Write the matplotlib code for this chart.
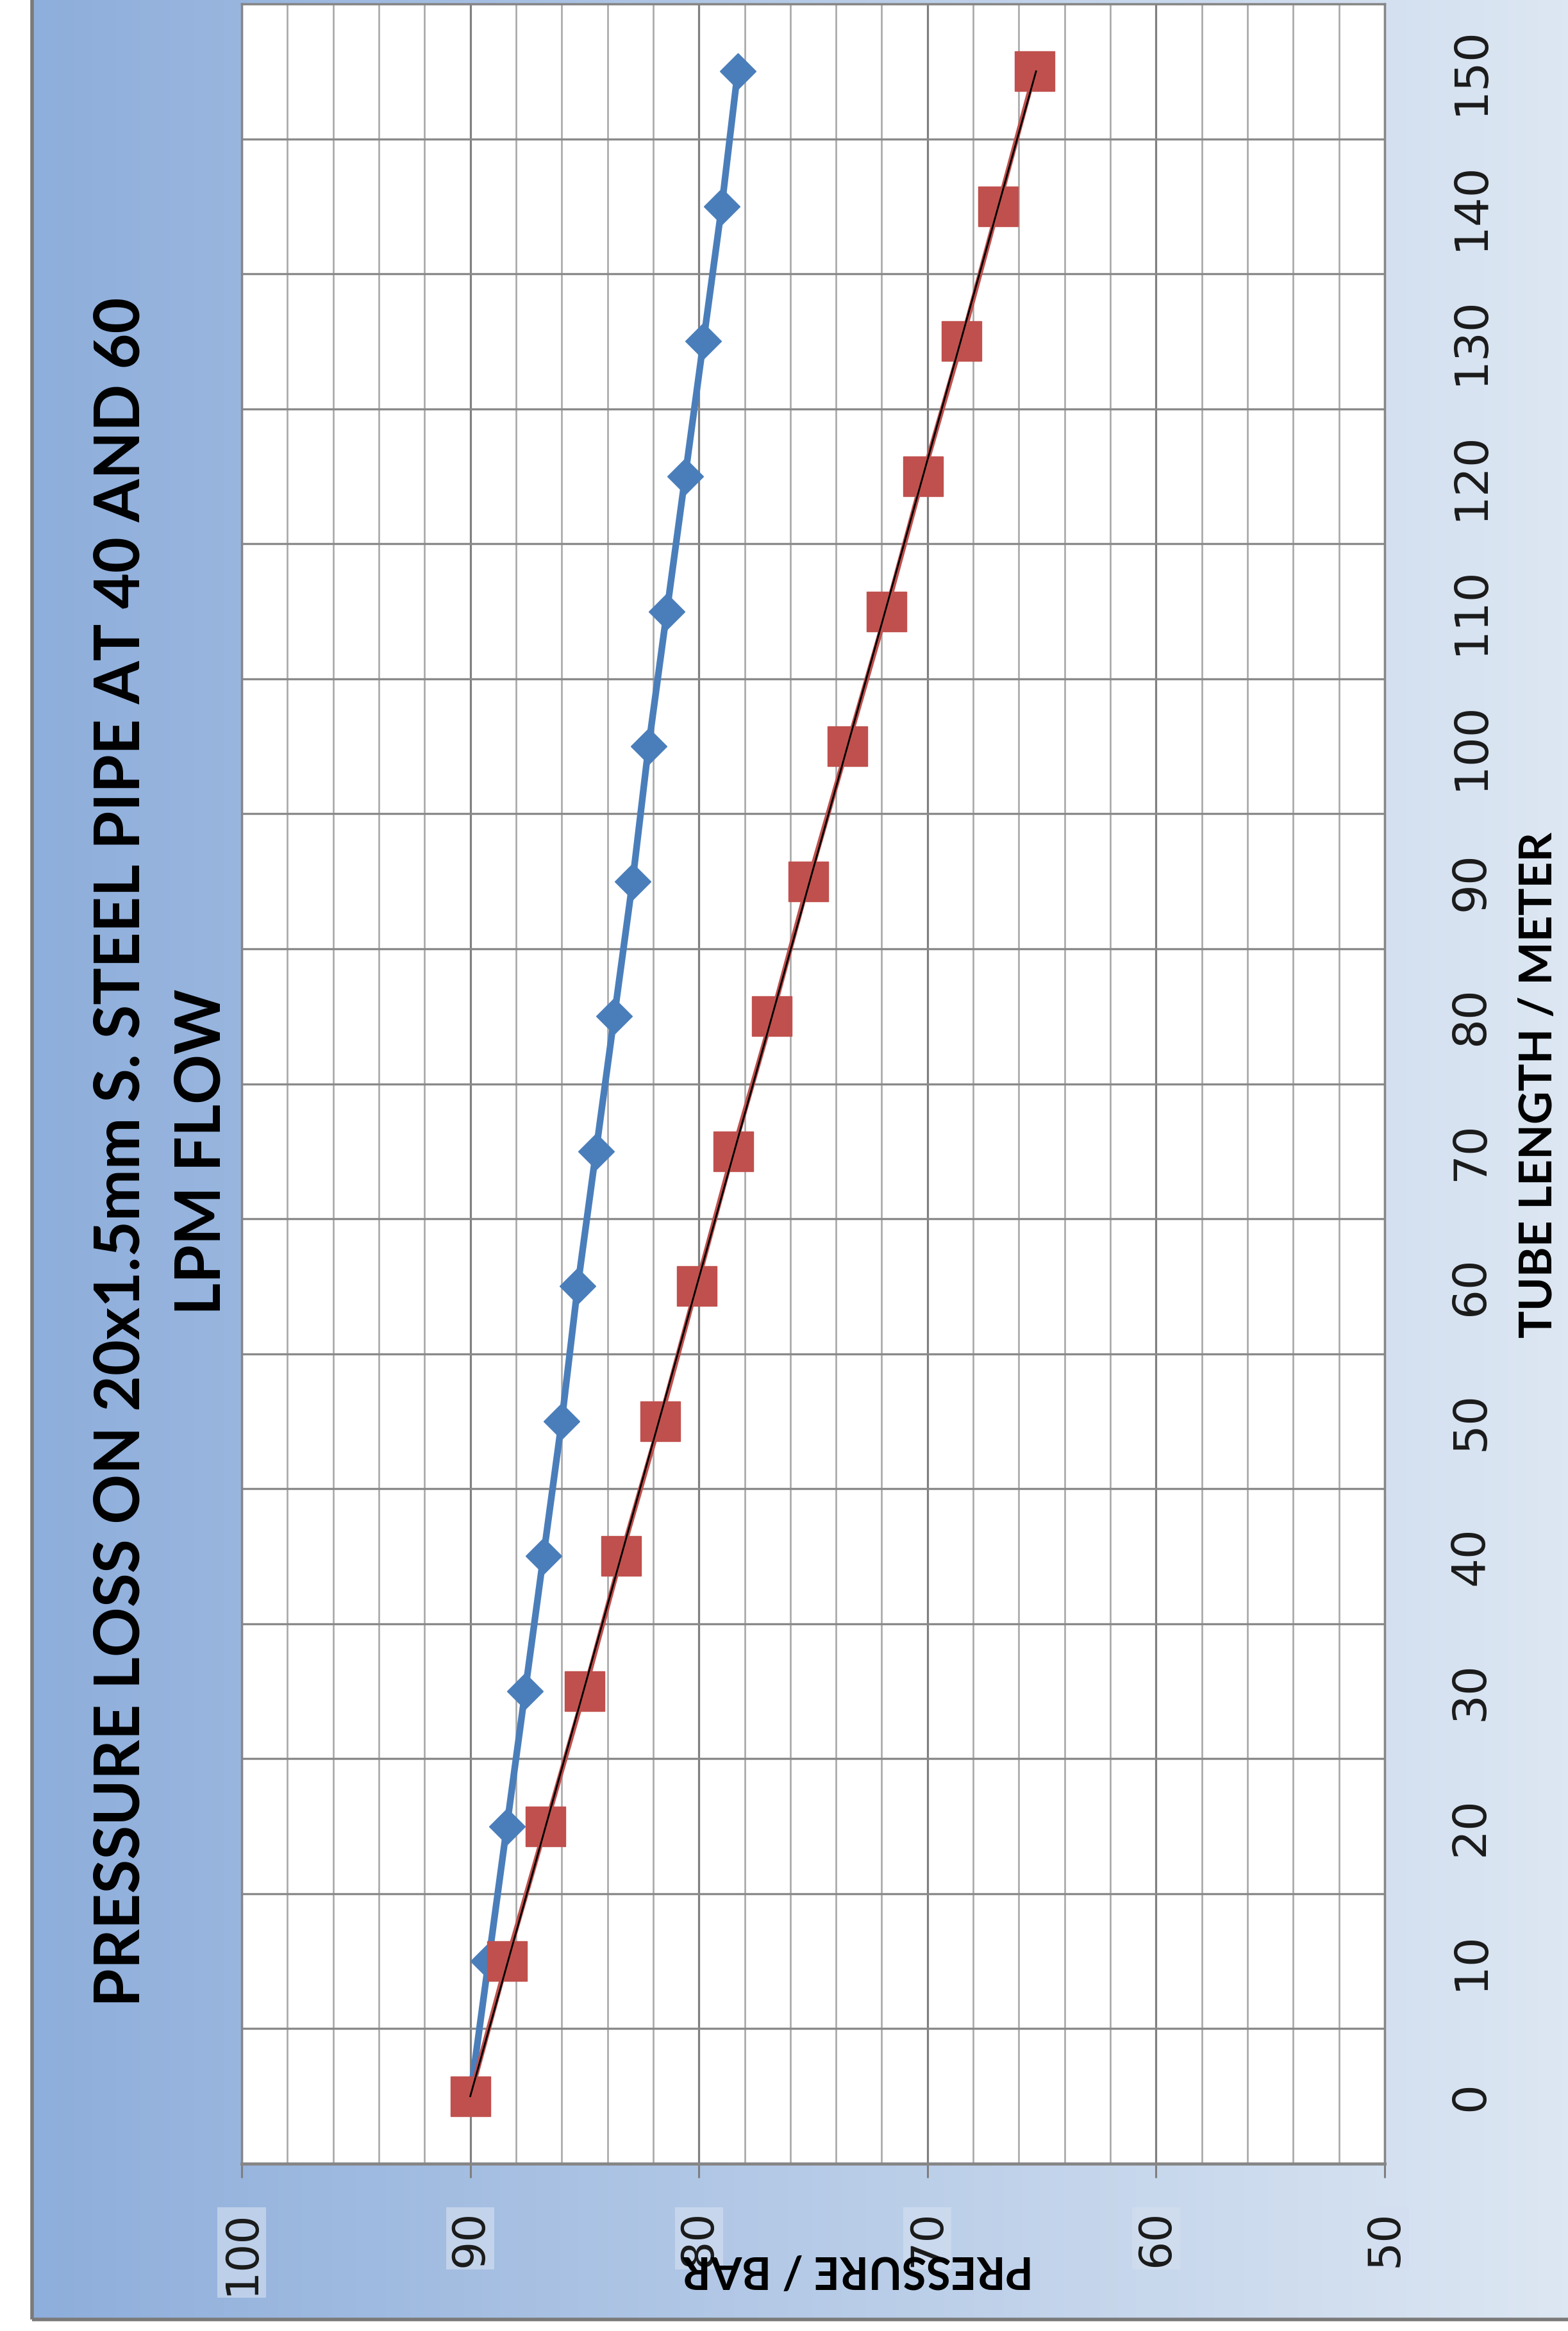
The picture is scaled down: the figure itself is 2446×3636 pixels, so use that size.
import numpy as np
import matplotlib
matplotlib.use('Agg')
import matplotlib.pyplot as plt
from matplotlib import font_manager
from matplotlib.colors import LinearSegmentedColormap
from matplotlib.ticker import MultipleLocator

W, H = 2446, 3636
DPI = 100

# data (tube length in m, pressure in bar)
tube_length = [0, 10, 20, 30, 40, 50, 60, 70, 80, 90, 100, 110, 120, 130, 140, 150]
flow_40 = [90.0, 89.2, 88.4, 87.6, 86.8, 86.0, 85.3, 84.5, 83.7, 82.9, 82.2, 81.4, 80.6, 79.8, 79.0, 78.3]
flow_60 = [90.0, 88.4, 86.7, 85.0, 83.4, 81.7, 80.1, 78.5, 76.8, 75.2, 73.5, 71.8, 70.2, 68.5, 66.9, 65.3]
pressure_ticks = [100, 90, 80, 70, 60, 50]

title = 'PRESSURE LOSS ON 20x1.5mm S. STEEL PIPE AT 40 AND 60\nLPM FLOW'
xlabel = 'PRESSURE / BAR'
ylabel = 'TUBE LENGTH / METER'

installed = {f.name for f in font_manager.fontManager.ttflist}
head_font = 'Liberation Sans Narrow' if 'Liberation Sans Narrow' in installed else 'Lato'

fig = plt.figure(figsize=(W / DPI, H / DPI), dpi=DPI)
fig.patch.set_facecolor('white')

# chart background (whole picture is an Excel chart turned on its side)
bg = fig.add_axes([0, 0, 1, 1], zorder=0)
bg.set_axis_off()
bg.set_xlim(0, W)
bg.set_ylim(0, H)
cmap = LinearSegmentedColormap.from_list('bg', ['#8eaedb', '#dde7f3'])
bg.imshow(np.linspace(0, 1, 256)[None, :], cmap=cmap, aspect='auto',
          extent=[50, W, H - 3618, H], zorder=0)
bg.plot([50, 50], [H - 3618, H], color='#7a7a7a', lw=4, solid_capstyle='butt')
bg.plot([50, W], [H - 3618, H - 3618], color='#7a7a7a', lw=4, solid_capstyle='butt')

# plot area: pressure runs along x (100 -> 50), tube length along y
ax = fig.add_axes([377 / W, (H - 3375) / H, (2160 - 377) / W, (3375 - 6) / H], zorder=1)
ax.set_facecolor('white')
ax.set_xlim(100, 50)
ax.set_ylim(-5, 155)

ax.set_xticks(pressure_ticks)
ax.xaxis.set_minor_locator(MultipleLocator(2))
ax.set_yticks(tube_length)
ax.yaxis.set_minor_locator(MultipleLocator(10, offset=5))

ax.grid(axis='x', which='major', color='#7f7f7f', lw=2.3)
ax.grid(axis='x', which='minor', color='#a8a8a8', lw=1.9)
ax.grid(axis='y', which='minor', color='#8a8a8a', lw=2.4)
ax.set_axisbelow(True)

ax.tick_params(axis='x', which='major', direction='out', length=16, width=2.2,
               color='#7f7f7f', pad=36, labelsize=50, labelrotation=90,
               labelcolor='#1a1a1a')
ax.tick_params(axis='x', which='minor', length=0)
ax.tick_params(axis='y', which='both', length=0, left=False, right=False,
               labelleft=False, labelright=True, pad=72, labelsize=52,
               labelrotation=90, labelcolor='#1a1a1a')
for lbl in ax.get_yticklabels():
    lbl.set_va('center')
for lbl in ax.get_xticklabels():
    lbl.set_bbox(dict(facecolor='#d3dff0', alpha=0.65, edgecolor='none', pad=3))

for side, sp in ax.spines.items():
    sp.set_color('#868686')
    sp.set_linewidth(2.5)
ax.spines['bottom'].set_linewidth(3.5)

# series
ax.plot(flow_40, tube_length, color='#4a7ebb', lw=7.5, marker='D', ms=29,
        mec='#4a7ebb', zorder=3, clip_on=False)
ax.plot(flow_60, tube_length, color='#c0504d', lw=5.5, marker='s', ms=44,
        mec='#c0504d', zorder=4, clip_on=False)
# linear trendline of the 60 LPM series
coef = np.polyfit(tube_length, flow_60, 1)
ends = [tube_length[0], tube_length[-1]]
ax.plot(np.polyval(coef, ends), ends, color='black', lw=2, zorder=5)

# texts
t_title = fig.text(252 / W, 1 - 1797 / H, title, rotation=90, ha='center', va='center',
                   multialignment='center', fontsize=70, fontweight='bold',
                   family=head_font, linespacing=1.5, color='black', zorder=3)
t_x = fig.text(1338 / W, 1 - 3540 / H, xlabel, rotation=180, ha='center', va='center',
               fontsize=45, fontweight='bold', family=head_font, color='black', zorder=3)
t_y = fig.text(2400 / W, 1 - 1692 / H, ylabel, rotation=90, ha='center', va='center',
               fontsize=45, fontweight='bold', family=head_font, color='black', zorder=3)

renderer = fig.canvas.get_renderer()


def fit(t, target):
    bb = t.get_window_extent(renderer)
    length = max(bb.width, bb.height)
    t.set_fontsize(t.get_fontsize() * target / length)


fit(t_title, 2669)
fit(t_x, 548)
fit(t_y, 789)

fig.savefig('out.png', dpi=DPI)
